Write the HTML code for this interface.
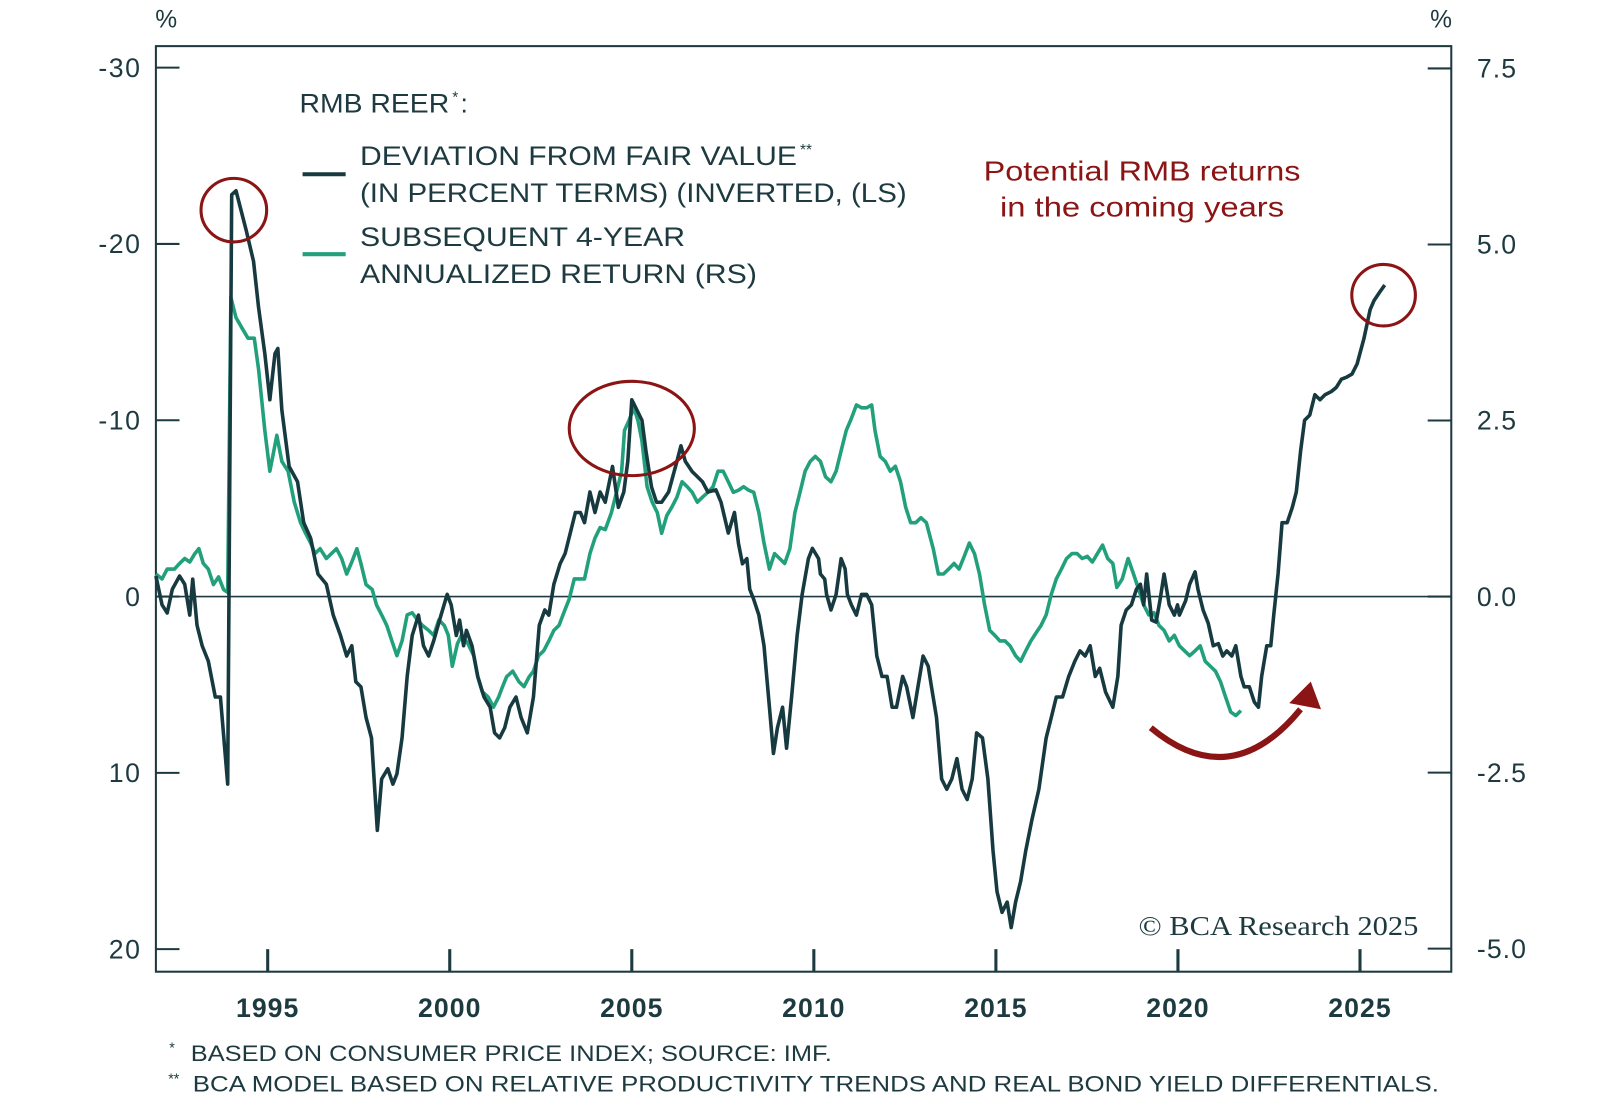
<!DOCTYPE html>
<html><head><meta charset="utf-8"><style>
html,body{margin:0;padding:0;background:#fff;}
svg{display:block;font-family:"Liberation Sans","DejaVu Sans",sans-serif;}
</style></head><body>
<svg id="chart" width="1600" height="1107" viewBox="0 0 1560 1080" preserveAspectRatio="none" xmlns="http://www.w3.org/2000/svg">
<rect width="1560" height="1080" fill="#fff"/>
<g id="axes"></g>
<g id="series"></g>
<g fill="#1d3a40" font-size="26">
<text x="292" y="110" textLength="146" lengthAdjust="spacingAndGlyphs">RMB REER</text>
<text x="441" y="100" font-size="15">*</text>
<text x="449" y="110">:</text>
<line x1="295" y1="170" x2="337" y2="170" stroke="#163a40" stroke-width="4"/>
<text x="351" y="161" textLength="426" lengthAdjust="spacingAndGlyphs">DEVIATION FROM FAIR VALUE</text>
<text x="780" y="151" font-size="15">**</text>
<text x="351" y="197" textLength="533" lengthAdjust="spacingAndGlyphs">(IN PERCENT TERMS) (INVERTED, (LS)</text>
<line x1="295" y1="248" x2="337" y2="248" stroke="#22a07c" stroke-width="4"/>
<text x="351" y="240" textLength="317" lengthAdjust="spacingAndGlyphs">SUBSEQUENT 4-YEAR</text>
<text x="351" y="276" textLength="387" lengthAdjust="spacingAndGlyphs">ANNUALIZED RETURN (RS)</text>
</g>
<g fill="#8b1414" font-size="27">
<text x="959" y="176" textLength="309" lengthAdjust="spacingAndGlyphs">Potential RMB returns</text>
<text x="975" y="211" textLength="277" lengthAdjust="spacingAndGlyphs">in the coming years</text>
</g>
<g fill="none" stroke="#8b1414" stroke-width="3">
<ellipse cx="228" cy="205" rx="32" ry="31"/>
<ellipse cx="616" cy="418" rx="61" ry="46"/>
<ellipse cx="1349" cy="288" rx="31" ry="30"/>
</g>
<g>
<path d="M1122,710 Q1200,775 1268,692" fill="none" stroke="#8b1414" stroke-width="6"/>
<polygon points="1278,665 1257,686 1288,692" fill="#8b1414"/>
</g>
<text x="1110" y="912" font-family="'Liberation Serif',serif" font-size="27" fill="#1d3a40" textLength="273" lengthAdjust="spacingAndGlyphs">© BCA Research 2025</text>
<g fill="#1d3a40" font-size="22">
<text x="165" y="1027" font-size="14">*</text>
<text x="186" y="1035" textLength="625" lengthAdjust="spacingAndGlyphs">BASED ON CONSUMER PRICE INDEX; SOURCE: IMF.</text>
<text x="164" y="1057" font-size="14">**</text>
<text x="188" y="1065" textLength="1215" lengthAdjust="spacingAndGlyphs">BCA MODEL BASED ON RELATIVE PRODUCTIVITY TRENDS AND REAL BOND YIELD DIFFERENTIALS.</text>
</g>
</svg>
<script>
const devYears=[1991.93,1992.10,1992.24,1992.38,1992.58,1992.72,1992.86,1992.94,1993.06,1993.20,1993.37,1993.56,1993.70,1993.90,1994.01,1994.13,1994.41,1994.61,1994.75,1994.92,1995.06,1995.20,1995.28,1995.39,1995.59,1995.82,1995.99,1996.18,1996.38,1996.61,1996.80,1997.00,1997.17,1997.31,1997.42,1997.56,1997.70,1997.85,1998.01,1998.13,1998.30,1998.44,1998.55,1998.69,1998.83,1998.97,1999.14,1999.28,1999.42,1999.56,1999.76,1999.93,2000.04,2000.18,2000.27,2000.38,2000.46,2000.61,2000.77,2000.94,2001.11,2001.23,2001.37,2001.51,2001.65,2001.82,2001.96,2002.13,2002.30,2002.46,2002.61,2002.72,2002.86,2003.03,2003.17,2003.31,2003.45,2003.59,2003.70,2003.85,2003.99,2004.13,2004.27,2004.47,2004.63,2004.78,2004.89,2005.00,2005.14,2005.28,2005.39,2005.54,2005.68,2005.82,2006.01,2006.24,2006.35,2006.47,2006.66,2006.80,2006.94,2007.09,2007.31,2007.45,2007.65,2007.82,2007.93,2008.04,2008.16,2008.24,2008.35,2008.49,2008.63,2008.78,2008.89,2009.00,2009.14,2009.25,2009.39,2009.54,2009.68,2009.85,2009.96,2010.13,2010.18,2010.30,2010.35,2010.47,2010.61,2010.75,2010.86,2010.92,2011.03,2011.17,2011.31,2011.45,2011.59,2011.73,2011.87,2012.01,2012.15,2012.27,2012.44,2012.55,2012.72,2012.86,2013.00,2013.14,2013.23,2013.37,2013.51,2013.65,2013.79,2013.93,2014.07,2014.21,2014.35,2014.47,2014.63,2014.78,2014.92,2015.03,2015.17,2015.31,2015.42,2015.54,2015.68,2015.82,2015.99,2016.18,2016.38,2016.52,2016.66,2016.83,2017.00,2017.17,2017.31,2017.45,2017.59,2017.73,2017.85,2018.01,2018.21,2018.35,2018.44,2018.58,2018.72,2018.86,2018.97,2019.06,2019.14,2019.28,2019.40,2019.51,2019.62,2019.76,2019.90,2019.99,2020.04,2020.21,2020.32,2020.47,2020.55,2020.69,2020.83,2020.97,2021.11,2021.23,2021.34,2021.48,2021.59,2021.73,2021.82,2021.96,2022.10,2022.21,2022.30,2022.44,2022.55,2022.63,2022.75,2022.86,2023.00,2023.14,2023.25,2023.37,2023.48,2023.62,2023.76,2023.90,2024.04,2024.21,2024.35,2024.49,2024.63,2024.78,2024.92,2025.11,2025.28,2025.39,2025.54,2025.68];
const devValues=[-1.16,0.47,0.93,-0.41,-1.16,-0.70,1.05,-0.99,1.63,2.79,3.66,5.70,5.70,10.64,-22.79,-23.02,-20.76,-19.01,-16.40,-13.78,-11.16,-13.78,-14.07,-10.58,-7.38,-6.51,-4.19,-3.31,-1.28,-0.70,1.05,2.21,3.37,2.79,4.83,5.12,6.86,8.02,13.26,10.35,9.77,10.64,10.06,8.02,4.53,2.21,1.05,2.79,3.37,2.50,1.05,-0.12,0.47,2.21,1.34,2.79,1.92,2.79,4.53,5.70,6.28,7.73,8.02,7.44,6.28,5.70,6.86,7.73,5.70,1.63,0.76,1.05,-0.70,-1.86,-2.44,-3.60,-4.77,-4.77,-4.19,-5.93,-4.77,-5.93,-5.35,-7.38,-5.06,-5.93,-7.67,-11.16,-10.58,-10.00,-8.26,-6.22,-5.35,-5.35,-5.93,-7.67,-8.55,-7.67,-7.09,-6.80,-6.51,-5.93,-6.05,-5.35,-3.60,-4.77,-3.02,-1.86,-2.15,-0.41,0.17,1.05,2.79,6.28,8.90,7.44,6.28,8.60,5.70,2.21,-0.12,-2.15,-2.73,-2.15,-1.28,-0.99,-0.12,0.76,-0.12,-2.15,-1.57,-0.12,0.47,1.05,-0.12,-0.12,0.47,3.37,4.53,4.53,6.28,6.28,4.53,5.12,6.86,5.12,3.37,3.95,5.12,6.86,10.35,10.93,10.35,9.19,10.93,11.51,10.35,7.73,8.02,10.35,14.42,16.74,17.91,17.33,18.78,17.33,16.16,14.42,12.67,10.93,8.02,6.86,5.70,5.70,4.53,3.66,3.08,3.37,2.79,4.53,4.07,5.41,6.28,4.53,1.63,0.76,0.47,-0.41,-0.70,0.47,-1.28,1.34,1.45,0.17,-1.28,0.47,1.05,0.47,1.05,0.23,-0.70,-1.40,-0.41,0.76,1.51,2.79,2.67,3.37,3.08,3.37,2.79,4.53,5.12,5.12,5.99,6.28,4.53,2.79,2.79,1.05,-1.28,-4.19,-4.19,-5.06,-5.93,-8.26,-10.00,-10.29,-11.45,-11.16,-11.45,-11.63,-11.86,-12.33,-12.44,-12.62,-13.20,-14.65,-16.28,-16.80,-17.27,-17.67];
const retYears=[1991.93,1992.10,1992.24,1992.44,1992.58,1992.72,1992.86,1993.00,1993.11,1993.23,1993.37,1993.51,1993.65,1993.79,1993.90,1993.99,1994.13,1994.30,1994.46,1994.63,1994.75,1994.92,1995.06,1995.17,1995.25,1995.39,1995.56,1995.73,1995.90,1996.04,1996.18,1996.30,1996.44,1996.61,1996.75,1996.89,1997.03,1997.17,1997.31,1997.45,1997.56,1997.70,1997.87,1997.99,1998.13,1998.27,1998.41,1998.55,1998.69,1998.83,1998.97,1999.11,1999.25,1999.42,1999.56,1999.70,1999.85,1999.96,2000.07,2000.21,2000.32,2000.49,2000.66,2000.77,2000.89,2001.06,2001.20,2001.34,2001.45,2001.56,2001.73,2001.90,2002.04,2002.18,2002.30,2002.44,2002.58,2002.72,2002.86,2003.00,2003.14,2003.28,2003.42,2003.56,2003.70,2003.85,2003.99,2004.13,2004.27,2004.44,2004.58,2004.72,2004.80,2004.92,2005.06,2005.17,2005.28,2005.42,2005.56,2005.70,2005.82,2005.96,2006.10,2006.24,2006.38,2006.52,2006.66,2006.80,2006.94,2007.09,2007.23,2007.37,2007.51,2007.65,2007.79,2007.93,2008.07,2008.21,2008.35,2008.49,2008.63,2008.78,2008.92,2009.06,2009.20,2009.34,2009.48,2009.62,2009.76,2009.90,2010.04,2010.18,2010.32,2010.47,2010.61,2010.75,2010.89,2011.03,2011.17,2011.31,2011.45,2011.59,2011.68,2011.82,2011.96,2012.10,2012.24,2012.38,2012.52,2012.66,2012.80,2012.94,2013.09,2013.28,2013.42,2013.56,2013.70,2013.85,2013.99,2014.13,2014.27,2014.41,2014.55,2014.69,2014.83,2014.97,2015.11,2015.25,2015.39,2015.54,2015.68,2015.82,2015.96,2016.10,2016.24,2016.38,2016.52,2016.66,2016.80,2016.94,2017.09,2017.23,2017.37,2017.51,2017.65,2017.79,2017.93,2018.07,2018.21,2018.32,2018.47,2018.63,2018.78,2018.92,2019.06,2019.20,2019.34,2019.48,2019.62,2019.76,2019.90,2020.04,2020.18,2020.32,2020.47,2020.61,2020.75,2020.89,2021.03,2021.17,2021.31,2021.45,2021.59,2021.73];
const retValues=[0.32,0.25,0.39,0.39,0.47,0.54,0.49,0.61,0.68,0.47,0.39,0.17,0.28,0.10,0.06,4.25,3.96,3.81,3.67,3.67,3.23,2.36,1.78,2.07,2.29,1.92,1.78,1.34,1.05,0.90,0.76,0.61,0.68,0.54,0.61,0.68,0.54,0.32,0.49,0.68,0.47,0.17,0.10,-0.12,-0.26,-0.41,-0.63,-0.84,-0.63,-0.26,-0.23,-0.33,-0.41,-0.48,-0.55,-0.33,-0.41,-0.55,-0.99,-0.67,-0.55,-0.66,-0.84,-1.14,-1.35,-1.43,-1.57,-1.43,-1.28,-1.14,-1.06,-1.21,-1.28,-1.14,-1.06,-0.84,-0.77,-0.63,-0.48,-0.41,-0.22,-0.04,0.25,0.25,0.25,0.61,0.83,0.98,0.95,1.19,1.48,1.78,2.36,2.50,2.68,2.50,2.21,1.56,1.34,1.19,0.90,1.15,1.27,1.41,1.63,1.56,1.48,1.34,1.41,1.48,1.56,1.78,1.78,1.63,1.48,1.51,1.56,1.51,1.48,1.19,0.76,0.39,0.61,0.54,0.47,0.68,1.19,1.48,1.78,1.92,1.99,1.92,1.70,1.63,1.78,2.07,2.36,2.53,2.72,2.68,2.68,2.72,2.36,1.99,1.92,1.78,1.85,1.63,1.27,1.05,1.05,1.12,1.05,0.68,0.32,0.32,0.39,0.47,0.39,0.57,0.76,0.61,0.32,-0.12,-0.48,-0.55,-0.63,-0.63,-0.70,-0.84,-0.92,-0.77,-0.63,-0.52,-0.41,-0.26,0.03,0.25,0.39,0.54,0.61,0.61,0.54,0.57,0.49,0.61,0.73,0.54,0.47,0.13,0.25,0.54,0.32,0.10,-0.12,-0.26,-0.23,-0.41,-0.48,-0.63,-0.55,-0.70,-0.77,-0.84,-0.77,-0.70,-0.92,-0.99,-1.06,-1.21,-1.43,-1.64,-1.69,-1.62];
const leftTicks=[-30,-20,-10,0,10,20];
const leftTickLabels=["-30","-20","-10","0","10","20"];
const rightTicks=[7.5,5.0,2.5,0,-2.5,-5.0];
const rightTickLabels=["7.5","5.0","2.5","0.0","-2.5","-5.0"];
const yearTicks=[1995,2000,2005,2010,2015,2020,2025];

const NS="http://www.w3.org/2000/svg";
const L=152,R=1415,T=45,B=948;
const xS=y=>261+(y-1995)*35.5;
const yL=v=>582+v*17.2;
const yR=v=>582-v*68.7;
const C="#1d3a40";
function mk(tag,attrs,parent){const e=document.createElementNS(NS,tag);for(const k in attrs)e.setAttribute(k,attrs[k]);parent.appendChild(e);return e;}
const ax=document.getElementById('axes');
let f=mk('rect',{x:L,y:T,width:R-L,height:B-T,fill:'none',stroke:C,'stroke-width':2},ax);


let z=mk('line',{x1:L,x2:R,y1:yL(0),y2:yL(0),stroke:C,'stroke-width':1.5},ax);


leftTicks.forEach((v,i)=>{
 let t=mk('line',{x1:L,x2:L+23,y1:yL(v),y2:yL(v),stroke:C,'stroke-width':2},ax);
 
 
 let s=mk('text',{x:138,y:yL(v)+9,'text-anchor':'end','font-size':26,'letter-spacing':1.5,fill:C},ax);
 s.textContent=leftTickLabels[i];
 
 
});
rightTicks.forEach((v,i)=>{
 let t=mk('line',{x1:R-23,x2:R,y1:yR(v),y2:yR(v),stroke:C,'stroke-width':2},ax);
 
 
 let s=mk('text',{x:1440,y:yR(v)+9,'font-size':26,'letter-spacing':1,fill:C},ax);
 s.textContent=rightTickLabels[i];
 
 
});
yearTicks.forEach(y=>{
 let t=mk('line',{x1:xS(y),x2:xS(y),y1:B,y2:B-22,stroke:C,'stroke-width':3},ax);
 
 
 let s=mk('text',{x:xS(y),y:992,'text-anchor':'middle','font-size':26,'font-weight':'bold','letter-spacing':1,fill:C},ax);
 s.textContent=String(y);
 
 
});
[[162,'left-axis-unit'],[1405,'right-axis-unit']].forEach(p=>{
 let s=mk('text',{x:p[0],y:27,'text-anchor':'middle','font-size':24,fill:C},ax);
 s.textContent='%';
 
 
});
const sg=document.getElementById('series');
let d1=retYears.map((y,i)=>(i?'L':'M')+xS(y).toFixed(1)+','+yR(retValues[i]).toFixed(1)).join('');
let p1=mk('path',{d:d1,fill:'none',stroke:'#22a07c','stroke-width':3.5,'stroke-linejoin':'round'},sg);


let d2=devYears.map((y,i)=>(i?'L':'M')+xS(y).toFixed(1)+','+yL(devValues[i]).toFixed(1)).join('');
let p2=mk('path',{d:d2,fill:'none',stroke:'#163a40','stroke-width':3.5,'stroke-linejoin':'round'},sg);


</script>
</body></html>
